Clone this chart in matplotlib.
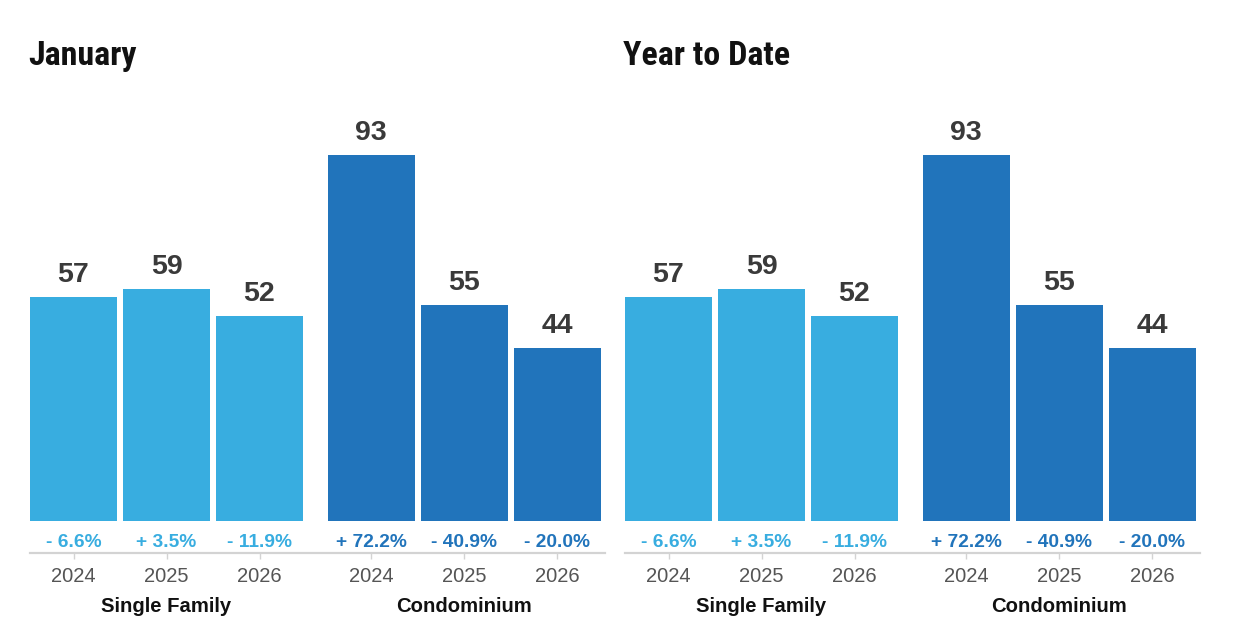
import matplotlib
matplotlib.use("Agg")
import matplotlib.pyplot as plt

panel_titles = ["January", "Year to Date"]
groups = ["Single Family", "Condominium"]
years = ["2024", "2025", "2026"]
single_family = [57, 59, 52]
condominium = [93, 55, 44]
sf_change = ["- 6.6%", "+ 3.5%", "- 11.9%"]
condo_change = ["+ 72.2%", "- 40.9%", "- 20.0%"]

light = "#38ade0"
dark = "#2174bb"
W, H = 1240, 642

fig = plt.figure(figsize=(W / 100, H / 100), dpi=100)
plt.rcParams['font.family'] = ['Liberation Sans', 'DejaVu Sans']

spacing = 93.0
first_center = 73.5
group_shift = 0.2
positions_sf = [0, 1, 2]
positions_condo = [3 + group_shift, 4 + group_shift, 5 + group_shift]
width = 87 / spacing

for p, title in enumerate(panel_titles):
    off = p * 595
    left_px, right_px = 30 + off, 605 + off
    top_px, bottom_px = 100, 553
    ax = fig.add_axes([left_px / W, 1 - bottom_px / H, (right_px - left_px) / W, (bottom_px - top_px) / H])
    pxu = 366 / 93.0
    ax.set_xlim((left_px - off - first_center) / spacing, (right_px - off - first_center) / spacing)
    ax.set_ylim(-(bottom_px - 521) / pxu, (521 - top_px) / pxu)

    for pos, vals, chg, col in [(positions_sf, single_family, sf_change, light),
                                (positions_condo, condominium, condo_change, dark)]:
        ax.bar(pos, vals, width=width, color=col, bottom=0)
        for x, v, c in zip(pos, vals, chg):
            ax.annotate(str(v), xy=(x, v), xytext=(0, 15 * 0.72), textcoords="offset points",
                        ha="center", va="baseline", fontsize=20.5, fontweight="bold", color="#3a3a3a")
            ax.annotate(c, xy=(x, 0), xytext=(0, -26 * 0.72), textcoords="offset points",
                        ha="center", va="baseline", fontsize=13.8, fontweight="bold", color=col)

    for s in ["top", "left", "right"]:
        ax.spines[s].set_visible(False)
    ax.spines["bottom"].set_color("#d3d3d3")
    ax.spines["bottom"].set_linewidth(1.6)
    ax.set_yticks([])
    ax.set_xticks(positions_sf + positions_condo)
    ax.set_xticklabels(years + years, fontsize=14.5, color="#555555")
    ax.tick_params(axis="x", length=4, width=1, color="#d3d3d3", pad=6)

    for gx, g in zip([positions_sf[1], positions_condo[1]], groups):
        ax.annotate(g, xy=(gx, 0), xycoords=("data", "axes fraction"), xytext=(0, -59 * 0.72),
                    textcoords="offset points", ha="center", va="baseline",
                    fontsize=14.6, fontweight="bold", color="#111111")

    fig.text((28 + off) / W, 1 - 65 / H, title, fontsize=24.5, fontweight="bold",
             family=['Roboto Condensed', 'IBM Plex Sans Condensed', 'Liberation Sans'],
             ha="left", va="baseline", color="#111111")

fig.savefig("out.png", dpi=100, facecolor="white")
